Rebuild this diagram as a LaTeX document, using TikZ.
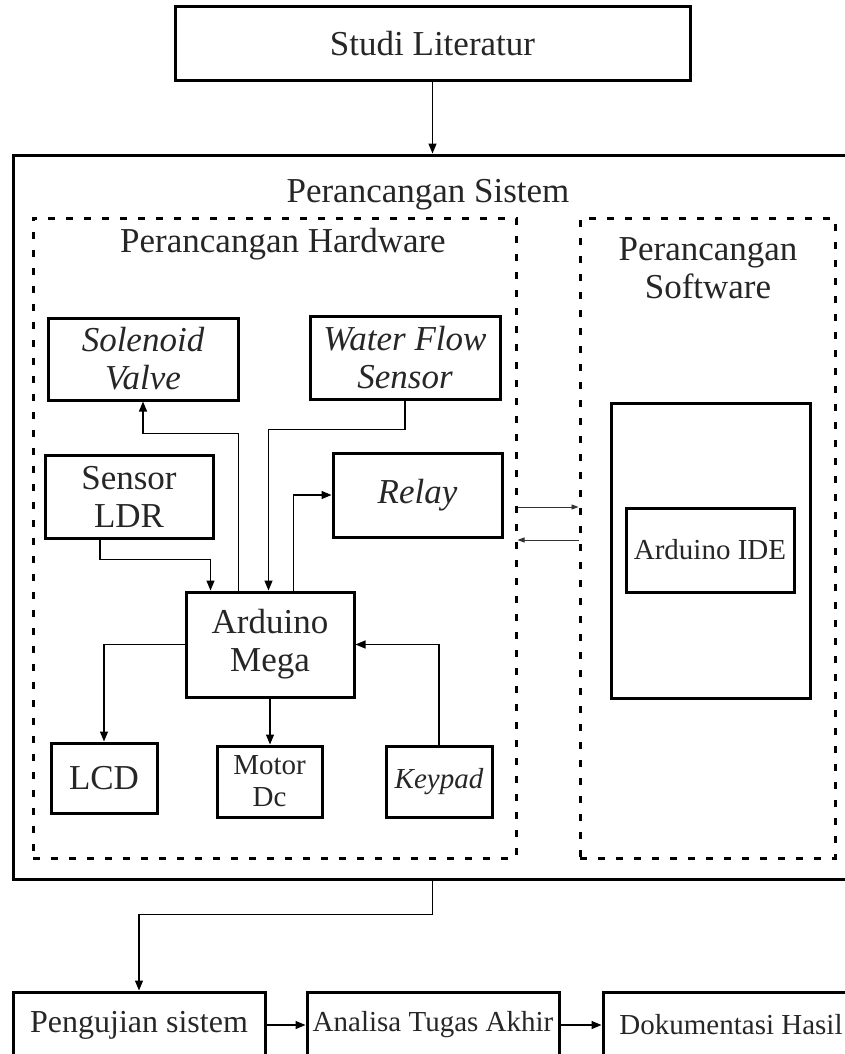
\documentclass[tikz,border=0pt]{standalone}
\usepackage{fontspec}
\setmainfont{Liberation Serif}
\usetikzlibrary{arrows.meta}

\begin{document}
\begin{tikzpicture}[x=1pt,y=-1pt,
		box/.style={draw,line width=3pt,rectangle,inner sep=0pt,align=center,text=black!85,font=\fontsize{35}{38}\selectfont},
		itbox/.style={box,font=\fontsize{35}{38}\selectfont\itshape},
		smallbox/.style={box,font=\fontsize{29}{32}\selectfont},
		dotbox/.style={draw,line width=3pt,dash pattern=on 7pt off 11pt,rectangle,inner sep=0pt},
		title/.style={inner sep=0pt,align=center,text=black!85,font=\fontsize{35}{38}\selectfont},
		wire/.style={line width=1.3pt,-{Triangle[length=10pt,width=8pt]}},
		thinwire/.style={line width=0.9pt,black!80,-{Triangle[length=7pt,width=5pt]}}]
			\clip (0,0) rectangle (845,1054);
			
			\node[box,minimum width=515pt,minimum height=74pt] (studi) at (432.5,44) {Studi Literatur};
			\node[draw,line width=3pt,inner sep=0pt,minimum width=860pt,minimum height=724pt] (outer) at (443,517) {};
			\node[title,anchor=base] (sistem) at (428,202) {Perancangan Sistem};
			
			\node[dotbox,minimum width=483pt,minimum height=640pt] (hw) at (274.5,538) {};
			\node[dotbox,minimum width=255pt,minimum height=640pt] (sw) at (707.5,538) {};
			\node[title,anchor=base] (hwtitle) at (283,252) {Perancangan Hardware};
			\node[title] (swtitle) at (708,268) {Perancangan\\Software};
			
			\node[itbox,minimum width=190pt,minimum height=82pt] (solenoid) at (143,359) {Solenoid\\Valve};
			\node[itbox,minimum width=190pt,minimum height=83pt] (waterflow) at (405,357.5) {Water Flow\\Sensor};
			\node[box,minimum width=168pt,minimum height=83pt] (ldr) at (129,496.5) {Sensor\\LDR};
			\node[itbox,minimum width=169pt,minimum height=84pt] (relay) at (417.5,495) {Relay};
			\node[box,minimum width=168pt,minimum height=105pt] (arduino) at (270,644.5) {Arduino\\Mega};
			\node[box,minimum width=106pt,minimum height=70pt] (lcd) at (104,778) {LCD};
			\node[smallbox,minimum width=105pt,minimum height=71pt] (motor) at (269.5,781.5) {Motor\\Dc};
			\node[smallbox,font=\fontsize{29}{32}\selectfont\itshape,minimum width=106pt,minimum height=71pt] (keypad) at (439,781.5) {Keypad};
			
			\node[draw,line width=3pt,inner sep=0pt,minimum width=199pt,minimum height=295pt] (swbox) at (710.5,550.5) {};
			\node[smallbox,minimum width=168pt,minimum height=84pt] (ide) at (710,550) {Arduino IDE};
			
			\node[box,font=\fontsize{32}{36}\selectfont,minimum width=252pt,minimum height=66pt] (pengujian) at (139,1025) {Pengujian sistem};
			\node[smallbox,minimum width=252pt,minimum height=66pt] (analisa) at (433,1025) {Analisa Tugas Akhir};
			\node[smallbox,minimum width=256pt,minimum height=66pt] (dokumentasi) at (731,1025) {Dokumentasi Hasil};
			
			\draw[wire] (studi.south) -- (studi.south |- outer.north);
			\draw[wire] ([xshift=54pt]arduino.north west) -- ++(0,-157) -| (solenoid.south);
			\draw[wire] (waterflow.south) -- ++(0,29) -| ([xshift=84pt]arduino.north west);
			\draw[wire] ([xshift=-29pt]ldr.south) -- ++(0,20) -| ([xshift=26pt]arduino.north west);
			\draw[wire] ([xshift=109pt]arduino.north west) |- (relay.west);
			\draw[wire] (arduino.west) -| (lcd.north);
			\draw[wire] (arduino.south) -- (arduino.south |- motor.north);
			\draw[wire] (keypad.north) |- (arduino.east);
			
			\draw[thinwire] ([yshift=31pt]hw.east) -- ([yshift=31pt]sw.west);
			\draw[thinwire] ([yshift=-2pt]sw.west) -- ([yshift=-2pt]hw.east);
			
			\draw[wire] (studi.south |- outer.south) -- ++(0,34) -| (pengujian.north);
			\draw[wire] (pengujian) -- (analisa);
			\draw[wire] (analisa) -- (dokumentasi);
		\end{tikzpicture}
\end{document}
